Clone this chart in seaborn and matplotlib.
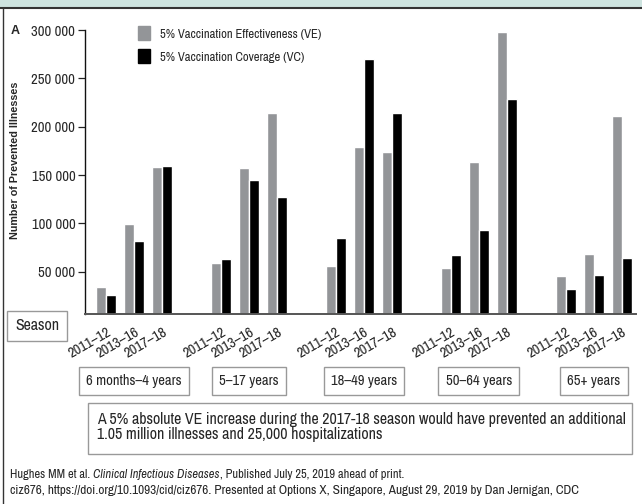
import numpy as np
import pandas as pd
import matplotlib.pyplot as plt
import seaborn as sns
from matplotlib.patches import Rectangle
from matplotlib import font_manager

age_groups = ["6 months–4 years", "5–17 years", "18–49 years", "50–64 years", "65+ years"]
seasons = ["2011–12", "2013–16", "2017–18"]
series = ["5% Vaccination Effectiveness (VE)", "5% Vaccination Coverage (VC)"]

# prevented illnesses, per age group, per season
ve_vals = [34500, 99700, 158600,
           59300, 157600, 214500,
           56200, 179300, 174100,
           54100, 163800, 298300,
           45900, 68600, 211400]
vc_vals = [25900, 82100, 159700,
           63500, 145200, 127600,
           85200, 270300, 214500,
           67600, 93400, 228900,
           32400, 46900, 64500]

yticks = [50000, 100000, 150000, 200000, 250000, 300000]
ytick_labels = ["50 000", "100 000", "150 000", "200 000", "250 000", "300 000"]

GROUP_STEP = 4.09
rows = []
for g, grp in enumerate(age_groups):
    for s, sea in enumerate(seasons):
        i = g * 3 + s
        xpos = round(g * GROUP_STEP + s, 2)
        rows.append({"x": xpos, "group": grp, "season": sea, "series": series[0], "value": ve_vals[i]})
        rows.append({"x": xpos, "group": grp, "season": sea, "series": series[1], "value": vc_vals[i]})
df = pd.DataFrame(rows)

# look for a condensed sans face, else plain Liberation Sans
names = sorted({f.name for f in font_manager.fontManager.ttflist})
narrow = [n for n in names if ("Narrow" in n or "Condensed" in n) and "Mono" not in n]
base = narrow[0] if narrow else "Liberation Sans"
BOLD = ["Liberation Sans", "DejaVu Sans"]

sns.set_theme(style="white")
plt.rcParams["font.family"] = [base, "Liberation Sans", "DejaVu Sans"]

fig = plt.figure(figsize=(6.42, 5.04), dpi=100)
ax = fig.add_axes([85 / 642, 1 - 314.3 / 504, 551 / 642, 284.3 / 504])
renderer = fig.canvas.get_renderer()
inv = fig.transFigure.inverted()


def fit(t, width_px, vertical=False):
    # scale a text so its extent is about width_px
    for _ in range(30):
        bb = t.get_window_extent(renderer)
        w = bb.height if vertical else bb.width
        if abs(w - width_px) < 1.5:
            break
        t.set_fontsize(t.get_fontsize() * min(1.1, max(0.9, width_px / w)))
    return t


sns.barplot(data=df, x="x", y="value", hue="series", native_scale=True,
            palette=["#939598", "#000000"], width=0.74, gap=0.04,
            saturation=1, legend=False, ax=ax)

ax.set_ylim(5900, 300000)
ax.set_xlim(-0.75, 4 * GROUP_STEP + 2 + 0.5)
ax.set_yticks(yticks)
ax.set_yticklabels(ytick_labels, fontsize=10.5)
ax.tick_params(axis="y", left=True, length=5, width=0.9, color="#222222", pad=2)
ax.set_ylabel("Number of Prevented Illnesses", fontsize=9, fontweight="bold", family=BOLD)
ax.yaxis.set_label_coords(-0.118, 0.54)
fit(ax.yaxis.label, 157, vertical=True)
ax.set_xlabel("")

xt = sorted(df["x"].unique())
ax.set_xticks(xt)
ax.set_xticklabels(seasons * len(age_groups), rotation=30, ha="right",
                   rotation_mode="anchor", fontsize=10.5)
ax.tick_params(axis="x", bottom=False, pad=2)

for side in ["top", "right"]:
    ax.spines[side].set_visible(False)
ax.spines["left"].set_color("#111111")
ax.spines["left"].set_linewidth(1.0)
ax.spines["bottom"].set_color("#555555")
ax.spines["bottom"].set_linewidth(1.4)

# legend drawn as squares + text
fig.patches.append(Rectangle((138 / 642, 1 - 40 / 504), 12 / 642, 14 / 504,
                             transform=fig.transFigure, color="#939598"))
fig.patches.append(Rectangle((138 / 642, 1 - 63 / 504), 12 / 642, 14 / 504,
                             transform=fig.transFigure, color="#000000"))
fit(fig.text(160 / 642, 1 - 38 / 504, series[0], fontsize=10, va="baseline"), 162)
fit(fig.text(160 / 642, 1 - 61 / 504, series[1], fontsize=10, va="baseline"), 145)

fig.text(11 / 642, 1 - 31 / 504, "A", fontsize=9, fontweight="bold", family=BOLD, va="center")

box = dict(boxstyle="square,pad=0.5", fc="white", ec="#999999", lw=1)
fig.text(15 / 642, 1 - 326 / 504, "Season", fontsize=11.5, va="center", ha="left", bbox=box)

# age group boxes centred below each group
for g, grp in enumerate(age_groups):
    cx = g * GROUP_STEP + 1
    fx = inv.transform(ax.transData.transform((cx, 0)))[0]
    fig.text(fx, 1 - 381 / 504, grp, fontsize=10.5, ha="center", va="center",
             bbox=dict(boxstyle="square,pad=0.5", fc="white", ec="#999999", lw=1))

fig.patches.append(Rectangle((88 / 642, 1 - 454 / 504), 544 / 642, 51 / 504,
                             transform=fig.transFigure, fc="white", ec="#999999", lw=1))
note = fig.text(97 / 642, 1 - 427 / 504,
                "A 5% absolute VE increase during the 2017-18 season would have prevented an additional\n"
                "1.05 million illnesses and 25,000 hospitalizations",
                fontsize=12, va="center", ha="left", linespacing=1.0)
fit(note, 528)

# footer: normal + italic + normal pieces laid side by side
parts = [("Hughes MM et al. ", "normal"), ("Clinical Infectious Diseases", "italic"),
         (", Published July 25, 2019 ahead of print.", "normal")]
foot2 = fig.text(10 / 642, 1 - 491 / 504,
                 "ciz676, https://doi.org/10.1093/cid/ciz676. Presented at Options X, Singapore, August 29, 2019 by Dan Jernigan, CDC",
                 fontsize=9, va="center")
fit(foot2, 568)
fs = foot2.get_fontsize()
pieces = [fig.text(0, 1 - 475 / 504, txt, fontsize=fs, style=style, va="center")
          for txt, style in parts]


def lay_out():
    xcur = 10
    for p in pieces:
        p.set_x(xcur / 642)
        xcur += p.get_window_extent(renderer).width
    return pieces[-1].get_window_extent(renderer).x1


for _ in range(10):
    end = lay_out()
    if abs(end - 402) < 2:
        break
    k = min(1.05, max(0.95, (402 - 10) / (end - 10)))
    for p in pieces:
        p.set_fontsize(p.get_fontsize() * k)
lay_out()

# top band and left frame line
fig.patches.append(Rectangle((0, 1 - 7 / 504), 1, 7 / 504, transform=fig.transFigure,
                             color="#cde3df", zorder=0))
fig.lines.append(plt.Line2D([0, 1], [1 - 8 / 504, 1 - 8 / 504], transform=fig.transFigure,
                            color="#333333", lw=1.5))
fig.lines.append(plt.Line2D([3 / 642, 3 / 642], [0, 1 - 8 / 504], transform=fig.transFigure,
                            color="#333333", lw=1))

fig.savefig("out.png", dpi=100)
